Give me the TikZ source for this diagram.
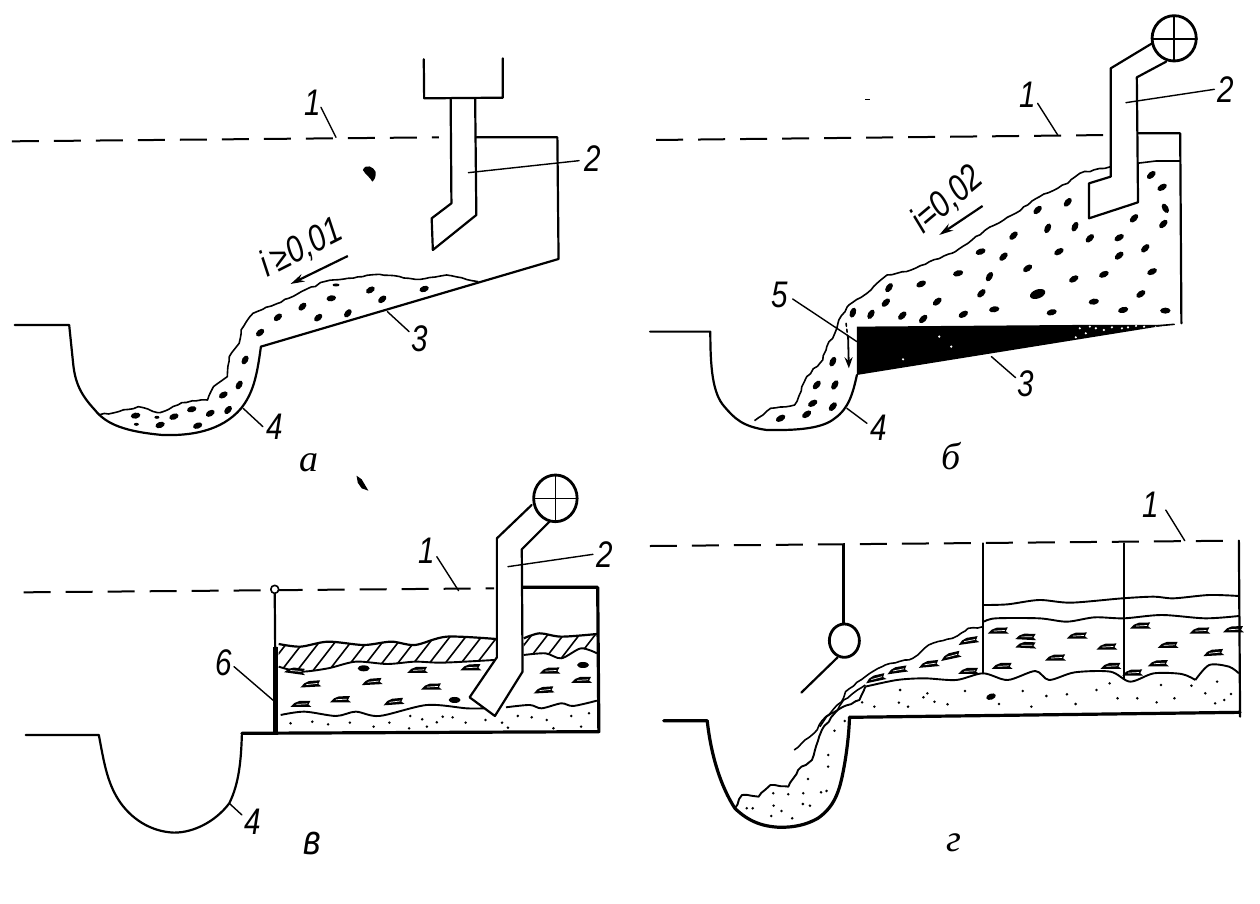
\documentclass[tikz,border=0pt]{standalone}
\usepackage{fontspec}
\setmainfont{Liberation Sans}
\newfontfamily\labfont[FakeStretch=0.8,UprightFont=* Italic]{Liberation Sans}
\newfontfamily\capfont[UprightFont=* Italic]{Liberation Serif}
\usetikzlibrary{decorations.pathmorphing,arrows.meta}
\tikzset{
  ln/.style={line width=2.2pt,line join=round,line cap=round},
  hv/.style={line width=3.2pt,line join=round,line cap=round},
  tn/.style={line width=1.6pt,line join=round,line cap=round},
  leader/.style={line width=1.4pt,line cap=round},
  dsh/.style={line width=2pt,dash pattern=on 27pt off 15pt},
  rough/.style={line width=1.6pt,line join=round,decorate,decoration={random steps,segment length=5pt,amplitude=.8pt}},
  wavy/.style={line width=1.9pt,line join=round},
  lab/.style={font=\labfont\fontsize{37}{37}\selectfont,inner sep=0pt,text=black},
  captext/.style={font=\capfont\fontsize{38}{38}\selectfont,inner sep=0pt,text=black},
  captextb/.style={font=\labfont\fontsize{42}{42}\selectfont,inner sep=0pt,text=black},
  pa/.style={shift={(0pt,-30pt)},x=0.3953pt,y=-0.3333pt},
  pb/.style={shift={(630pt,0pt)},x=0.4016pt,y=-0.3333pt},
  pc/.style={shift={(0pt,-460pt)},x=0.3953pt,y=-0.3333pt},
  pd/.style={shift={(640pt,-510pt)},x=0.3953pt,y=-0.3333pt},
  arr/.style={line width=2.2pt,-{Stealth[length=14pt,width=8pt]}},
}
\newcommand{\blobs}[4]{\foreach \bx/\by/\br in {#4}{\fill[shift={(\bx,\by)},rotate=\br] (0,0) ellipse (#1 and #2);}}
\newcommand{\specks}[1]{\foreach \bx/\by in {#1}{\fill (\bx,\by) circle (1.4pt);}}
% flat lumps of the middle layer: a skewed bar with a light slit
\newcommand{\lumps}[1]{\foreach \bx/\by/\br in {#1}{\begin{scope}[shift={(\bx,\by)},rotate=\br]
  \fill (-10pt,-3pt) -- (-6pt,1pt) -- (-1pt,3pt) -- (10pt,3.2pt) -- (8pt,-.5pt) -- (11pt,-3pt) -- cycle;
  \draw[white,line width=.7pt] (-4pt,-.4pt) -- (7pt,.2pt);
 \end{scope}}}
\begin{document}
\begin{tikzpicture}
\path[use as bounding box,fill=white] (0pt,0pt) rectangle (1260pt,-903pt);

%% ---- panel a ----
\begin{scope}[pa]
 \draw[dsh] (30,334) -- (1110,322);
 \draw[rough] plot coordinates {(250,1155) (300,1145) (350,1130) (405,1148) (460,1118) (525,1110) (540,1070) (575,1040) (580,980) (605,940) (610,900) (640,850) (730,805) (820,755) (880,745) (960,733) (1050,748) (1130,735) (1210,755)};
 \blobs{4.8pt}{3pt}{}{343/1157/10,405/1185/20,440/1160/20,500/1187/20,485/1138/15,532/1150/30,577/1140/50,565/1095/30,605/1065/60,620/990/60,658/908/40,703/862/40,765/830/45,805/863/40,880/850/50,838/805/10,937/780/30,967/808/40,1073/777/20}
 \fill (850,765) ellipse (3.5pt and 1.5pt);
 \fill (397,1162) ellipse (2.5pt and 1.5pt);
 \fill (345,1183) ellipse (2.5pt and 1.5pt);
 % tank, ditch
 \draw[ln] (1205,322) -- (1410,322) -- (1413,687) -- (660,950) .. controls (650,1040) and (640,1090) .. (610,1135) .. controls (560,1205) and (480,1218) .. (410,1215) .. controls (320,1205) and (270,1185) .. (240,1140) .. controls (205,1095) and (190,1060) .. (185,1000) -- (175,885) -- (37,885);
 % pipe
 \draw[ln] (1072,88) -- (1073,205) -- (1272,203) -- (1272,85);
 \draw[ln] (1140,205) -- (1142,520) -- (1092,565) -- (1095,660) -- (1205,555) -- (1202,205);
 % stray mark
 \fill (918,420) .. controls (925,400) and (945,410) .. (950,425) .. controls (952,440) and (947,450) .. (942,455) .. controls (935,440) and (925,435) .. (918,420) -- cycle;
 % labels
 \node[lab] (a1) at (790,218) {1};
 \draw[leader] (812,232) -- (850,322);
 \node[lab] (a2) at (1500,385) {2};
 \draw[leader] (1185,428) -- (1465,392);
 \node[lab,rotate=27] (ai) at (762,655) {i\,≥0,01};
 \draw[arr] (880,678) -- (735,762);
 \node[lab] (a3) at (1062,925) {3};
 \draw[leader] (980,845) -- (1035,905);
 \node[lab] (a4) at (695,1190) {4};
 \draw[leader] (615,1135) -- (665,1190);
 \node[captext] (acap) at (782,1298) {а};
\end{scope}

%% ---- panel b ----
\begin{scope}[pb]
 \draw[dsh] (65,420) -- (1195,405);
 % ditch
 \draw[ln] (50,995) -- (200,995) .. controls (200,1100) and (205,1180) .. (235,1220) .. controls (260,1255) and (280,1280) .. (340,1290) .. controls (420,1292) and (480,1285) .. (510,1255) .. controls (545,1225) and (555,1180) .. (565,1125);
 % sediment
 \draw[rough] plot coordinates {(310,1262) (350,1225) (410,1215) (440,1130) (480,1080) (490,1040) (510,1000) (520,960) (545,915) (590,880) (640,825) (700,810) (810,755) (885,690) (960,640) (1020,590) (1090,550) (1120,520) (1197,500)};
 \blobs{5.2pt}{3pt}{}{1298/525/40,1325/562/30,1333/625/-60,1328/672/45,1255/655/45,1218/713/30,1145/715/45,1108/680/65,1040/685/65,1090/607/50,1015/630/45,955/707/45,1068/755/30,1283/745/45,1218/767/40,930/770/45,873/755/20,990/805/35,895/830/60,817/820/15,725/852/25,645/863/55,1105/837/30,1180/823/25,1300/815/25,875/880/45,1155/905/10,1272/882/35,765/905/40,637/908/45,600/943/60,678/947/45,830/943/30,907/928/10,730/957/45,1050/937/15,1228/930/15,1333/932/0,555/938/70,505/1085/65,465/1155/50,510/1155/60,455/1210/30,505/1220/50,440/1243/35,375/1255/30}
 \fill[shift={(1015,882)},rotate=20] (0,0) ellipse (8pt and 4.5pt);
 % wedge
 \fill (565,980) -- (1110,975) -- (1340,975) -- (565,1125) -- cycle;
 \foreach \wx/\wy in {1120/985,1135/1000,1160/985,1200/982,1240/982,1280/980,1310/980,770/1010,680/1078,800/1040,1110/1012,1145/980,1180/990,1225/985,1260/978}{\fill[white] (\wx,\wy) circle (1.2pt);}
 % tank
 \draw[tn] (1262,490) -- (1310,483) -- (1370,483);
 \draw[ln] (1262,400) -- (1370,400) -- (1373,970);
 \draw[tn] (1310,978) -- (1355,973);
 % pipe
 \draw[ln,fill=white] (1300,130) -- (1197,205) -- (1197,530) -- (1143,550) -- (1143,655) -- (1265,607) -- (1262,232) -- (1335,185);
 \draw[hv,line width=2.8pt] (1355,115) ellipse (55 and 68);
 \draw[tn] (1300,117) -- (1412,117) (1355,47) -- (1355,183);
 % small arrow at the lip
 \draw[line width=1.8pt,-{Stealth[length=11pt,width=8pt]}] (543,1010) -- (545,1105);
 \draw[tn,dashed] (538,970) -- (542,1010);
 % stray mark
 \draw[line width=1.2pt] (586,298) -- (598,298);
 % labels
 \node[lab] (b1) at (990,285) {1};
 \draw[leader] (1015,310) -- (1065,405);
 \node[lab] (b2) at (1483,268) {2};
 \draw[leader] (1235,308) -- (1455,268);
 \node[lab,rotate=40] (bi) at (790,600) {i=0,02};
 \draw[arr] (878,618) -- (770,705);
 \node[lab] (b5) at (372,885) {5};
 \draw[leader] (405,897) -- (565,1025);
 \node[lab] (b3) at (985,1150) {3};
 \draw[leader] (900,1070) -- (960,1133);
 \node[lab] (b4) at (620,1282) {4};
 \draw[leader] (540,1225) -- (590,1270);
 \node[captext] (bcap) at (800,1368) {б};
\end{scope}

%% ---- panel c ----
\begin{scope}[pc]
 \draw[dsh] (60,397) -- (1250,385);
 % hatched scum
 \begin{scope}
  \clip (705,552) -- (760,560) -- (830,545) -- (920,555) -- (990,545) -- (1050,555) -- (1130,530) -- (1255,537) -- (1255,600) -- (1120,608) -- (1050,605) -- (980,612) -- (900,605) -- (830,625) -- (760,635) -- (705,620) -- cycle;
  \foreach \hx in {660,700,...,1260}{\draw[tn] (\hx,650) -- (\hx+85,520);}
 \end{scope}
 \begin{scope}
  \clip (1325,535) -- (1365,520) -- (1420,530) -- (1510,522) -- (1510,580) -- (1470,565) -- (1420,595) -- (1380,580) -- (1325,585) -- cycle;
  \foreach \hx in {1290,1330,...,1500}{\draw[tn] (\hx,610) -- (\hx+65,510);}
 \end{scope}
 \draw[wavy,line width=2.2pt] plot[smooth] coordinates {(705,552) (760,560) (830,545) (920,555) (990,545) (1050,555) (1130,530) (1255,537)};
 \draw[wavy] plot[smooth] coordinates {(705,620) (760,635) (830,625) (900,605) (980,612) (1050,605) (1120,608) (1250,600)};
 \draw[wavy,line width=2.2pt] plot[smooth] coordinates {(1325,535) (1365,520) (1420,530) (1510,522)};
 \draw[wavy] plot[smooth] coordinates {(1325,585) (1380,580) (1420,595) (1470,565) (1510,580)};
 % sand surface
 \draw[wavy] plot[smooth] coordinates {(710,765) (770,755) (850,768) (900,755) (960,768) (1080,735) (1180,745) (1225,745)};
 \draw[wavy] plot[smooth] coordinates {(1280,742) (1340,735) (1370,745) (1420,730) (1450,738) (1510,722)};
 \lumps{745/632/-8,785/672/3,940/665/3,1055/630/0,1190/622/0,1090/680/0,760/732/0,860/718/0,995/725/4,1390/632/0,1375/690/3,1470/660/0}
 \blobs{6pt}{3pt}{}{920/625/0,1150/720/0,1475/615/0}
 \specks{735/790,790/785,830/793,885/788,945/800,985/788,1038/768,1068/778,1105/787,1120/770,1145/772,1178/788,1228/780,1270/788,1285/803,1310/768,1345/772,1383/780,1400/805,1445/768,1490/760,1470/800,1035/805,1080/800}
 % tank & stem
 \draw[hv] (1322,382) -- (1512,382) -- (1515,815) -- (612,820);
 \draw[ln] (612,820) .. controls (610,900) and (605,970) .. (580,1030) .. controls (545,1085) and (490,1118) .. (440,1118) .. controls (380,1115) and (330,1075) .. (300,1020) .. controls (270,965) and (262,900) .. (250,825) -- (65,825);
 \draw[ln] (695,400) -- (697,700);
 \draw[line width=4.4pt] (697,560) -- (697,815);
 \draw[tn,fill=white] (695,388) ellipse (10 and 12);
 % pipe
 \draw[ln,fill=white] (1345,135) -- (1257,235) -- (1257,592) -- (1188,712) -- (1252,768) -- (1322,635) -- (1320,268) -- (1390,185);
 \draw[hv,line width=2.8pt] (1405,115) ellipse (55 and 70);
 \draw[tn] (1350,115) -- (1460,115) (1405,45) -- (1405,185);
 % stray mark
 \fill (902,47) -- (915,58) -- (932,92) -- (915,85) -- (905,68) -- cycle;
 % labels
 \node[lab] (c1) at (1080,272) {1};
 \draw[leader] (1105,290) -- (1160,392);
 \node[lab] (c2) at (1530,283) {2};
 \draw[leader] (1285,320) -- (1500,283);
 \node[lab] (c6) at (565,607) {6};
 \draw[leader] (592,620) -- (695,725);
 \node[lab] (c4) at (640,1085) {4};
 \draw[leader] (580,1030) -- (612,1065);
 \node[captextb] (ccap) at (790,1152) {в};
\end{scope}

%% ---- panel d ----
\begin{scope}[pd]
 \draw[dsh] (25,108) -- (1510,92);
 % water lines
 \draw[wavy] plot[smooth] coordinates {(870,285) (930,283) (1010,270) (1090,278) (1220,265) (1300,260) (1350,265) (1440,255) (1515,258)};
 \draw[wavy] plot[smooth] coordinates {(870,335) (900,325) (1010,325) (1080,335) (1150,322) (1224,325) (1320,315) (1430,325) (1515,318)};
 % flow surface
 \draw[rough] plot coordinates {(390,720) (440,670) (470,620) (510,575) (520,545) (570,500) (620,465) (690,445) (730,405) (790,385) (830,355) (868,350)};
 \draw[rough] plot coordinates {(455,650) (472,620) (500,600) (515,570) (550,540) (570,525)};
 \draw[rough,line width=1.9pt] plot coordinates {(240,895) (258,855) (300,860) (330,825) (375,830) (400,780) (435,750) (460,660) (500,600) (555,570) (570,530)};
 \draw[wavy] plot[smooth] coordinates {(570,530) (650,510) (720,505) (800,510) (868,490) (930,510) (1000,483) (1035,510) (1100,487) (1190,485) (1240,515) (1300,490) (1370,492) (1405,510)};
 \draw[wavy] plot[smooth] coordinates {(1405,510) (1440,465) (1490,470) (1515,490)};
 \lumps{905/362/0,830/392/8,785/438/12,730/462/5,650/480/8,595/505/12,830/483/0,915/468/0,975/380/-3,975/405/-3,1105/377/0,1050/443/0,1180/410/0,1190/468/0,1265/347/0,1415/362/0,1335/405/0,1450/428/3,1310/460/0,1500/358/0,1245/488/0}
 \specks{658/540,727/550,822/543,968/543,1028/558,1080/553,1155/540,1188/520,1318/525,1395/527,1460/515,562/577,593/590,655/578,678/590,745/575,778/583,717/562,908/582,990/590,1102/582,1208/565,1258/565,1307/577,1352/565,1430/550,1495/552,1478/570,1455/580,518/633,492/662,476/735,476/770,425/807,472/843,458/847,413/850,375/853,337/850,412/882,430/887,338/887,285/895,270/895,332/918,358/903,385/925}
 \fill[shift={(888,560)},rotate=20] (0,0) ellipse (5pt and 3pt);
 % structure
 \draw[ln] (515,105) -- (515,340);
 \draw[hv,line width=2.8pt] (517,392) ellipse (38 and 50);
 \draw[ln] (500,442) -- (408,548);
 \draw[ln] (868,100) -- (868,490);
 \draw[ln] (1224,100) -- (1224,505);
 \draw[ln] (1515,92) -- (1518,620);
 \draw[hv] (1518,607) -- (530,622);
 \draw[hv] (530,622) .. controls (528,700) and (515,790) .. (505,830) .. controls (495,870) and (480,900) .. (450,925) .. controls (420,945) and (390,952) .. (355,952) .. controls (310,950) and (275,935) .. (240,895) .. controls (205,830) and (180,740) .. (170,632) -- (60,632);
 % labels
 \node[lab] (d1) at (1293,-15) {1};
 \draw[leader] (1330,0) -- (1378,92);
 \node[captext] (dcap) at (795,998) {г};
\end{scope}
\end{tikzpicture}
\end{document}
